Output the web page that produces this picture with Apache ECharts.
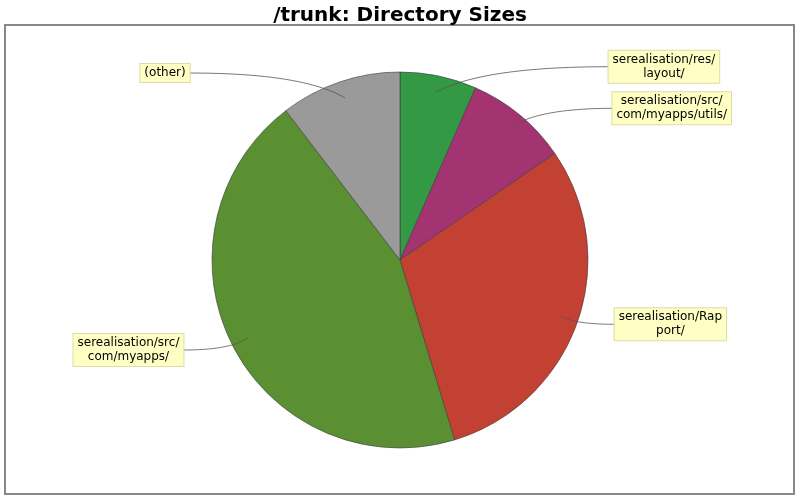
<!DOCTYPE html>
<html>
<head>
<meta charset="utf-8">
<script src="https://cdn.jsdelivr.net/npm/echarts@6/dist/echarts.min.js"></script>
<style>html,body{margin:0;padding:0;background:#fff}#c{width:800px;height:500px}</style>
</head>
<body>
<div id="c"></div>
<script>
// Data (clockwise from 12 o'clock)
const categories = [
  'serealisation/res/\nlayout/',
  'serealisation/src/\ncom/myapps/utils/',
  'serealisation/Rap\nport/',
  'serealisation/src/\ncom/myapps/',
  '(other)'
];
const sizes = [658, 883, 2990, 4430, 1039];

// Styling (not data)
const colors = ['#339944', '#a33371', '#c34132', '#5a8f32', '#9a9a9a'];
const lineLen = [26.5, 25.8, 23.6, 26.3, 26.4];
const lineLen2 = [168, 87, 31, 41, 147];

const chart = echarts.init(document.getElementById('c'), null, {renderer: 'canvas'});

const CX = 400, CY = 260, R = 188, R0 = 171;

const labelStyle = {
  show: true,
  position: 'outside',
  fontFamily: 'DejaVu Sans',
  fontSize: 12,
  color: '#000',
  backgroundColor: '#ffffc4',
  borderColor: '#dcdca8',
  borderWidth: 1,
  padding: [2, 4, 2, 4],
  distanceToLabelLine: 0,
  formatter: p => p.name.split('\n').map(s => '{a|' + s + '}').join('\n'),
  rich: { a: { align: 'center', fontFamily: 'DejaVu Sans', fontSize: 12, lineHeight: 14, color: '#000' } }
};

// Curved link: quadratic bezier from anchor to label edge, horizontal at the label end
function curvedLink(params) {
  const pts = params.labelLinePoints;
  if (!pts || pts.length < 3) return {};
  const p0 = pts[0], p2 = pts[pts.length - 1];
  const c = [p0[0] + 0.27 * (p2[0] - p0[0]), p2[1]];
  const out = [];
  const N = 24;
  for (let k = 0; k <= N; k++) {
    const t = k / N, u = 1 - t;
    out.push([u * u * p0[0] + 2 * t * u * c[0] + t * t * p2[0],
              u * u * p0[1] + 2 * t * u * c[1] + t * t * p2[1]]);
  }
  return { labelLinePoints: out };
}

chart.setOption({
  animation: false,
  title: {
    text: '/trunk: Directory Sizes',
    left: 'center',
    top: 1,
    textStyle: { fontFamily: 'DejaVu Sans', fontSize: 20, fontWeight: 'bold', color: '#000' }
  },
  graphic: [{
    type: 'rect',
    shape: { x: 5, y: 25, width: 789, height: 469 },
    style: { fill: 'none', stroke: '#888888', lineWidth: 2 },
    silent: true,
    z: -10
  }],
  series: [
    {
      type: 'pie',
      center: [CX, CY],
      radius: R,
      startAngle: 90,
      clockwise: true,
      avoidLabelOverlap: false,
      label: { show: false },
      labelLine: { show: false },
      itemStyle: { borderColor: '#3a3a3a', borderWidth: 0.6 },
      emphasis: { disabled: true },
      data: categories.map((n, i) => ({ name: n, value: sizes[i], itemStyle: { color: colors[i] } }))
    },
    {
      type: 'pie',
      center: [CX, CY],
      radius: R0,
      startAngle: 90,
      clockwise: true,
      avoidLabelOverlap: false,
      silent: true,
      z: 5,
      itemStyle: { color: 'rgba(0,0,0,0)', borderWidth: 0 },
      label: labelStyle,
      labelLine: { show: true, smooth: false, lineStyle: { color: '#555', width: 0.8 } },
      labelLayout: curvedLink,
      emphasis: { disabled: true },
      data: categories.map((n, i) => ({
        name: n, value: sizes[i],
        labelLine: { length: lineLen[i], length2: lineLen2[i] }
      }))
    }
  ]
});
</script>
</body>
</html>
